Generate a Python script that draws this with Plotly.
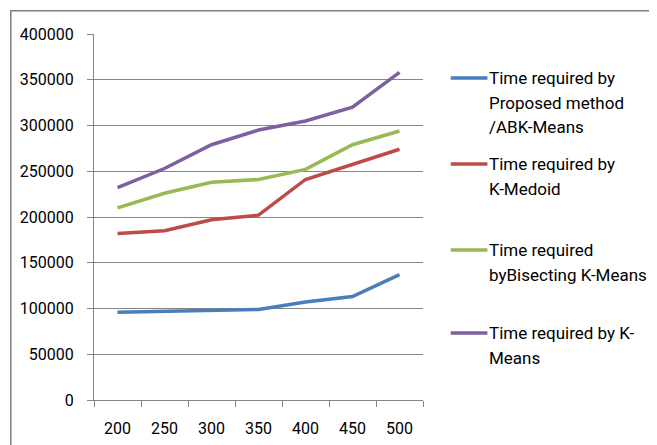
import plotly.graph_objects as go

categories = ["200", "250", "300", "350", "400", "450", "500"]
proposed = [96000, 97000, 98000, 99000, 107000, 113000, 137000]
kmedoid = [182000, 185000, 197000, 202000, 241000, 258000, 274000]
bisecting = [210000, 226000, 238000, 241000, 252000, 279000, 294000]
kmeans = [232000, 253000, 279000, 295000, 305000, 320000, 358000]

series_names = [
    ["Time required by", "Proposed method", "/ABK-Means"],
    ["Time required by", "K-Medoid"],
    ["Time required", "byBisecting K-Means"],
    ["Time required by K-", "Means"],
]
series_values = [proposed, kmedoid, bisecting, kmeans]
colors = ["#4A7EBB", "#BE4B48", "#98B954", "#7D60A0"]

FONT = "Roboto"
OFF = 8  # page body margin offset

fig = go.Figure()
for names, vals, col in zip(series_names, series_values, colors):
    fig.add_trace(go.Scatter(
        x=categories, y=vals, mode="lines", name=" ".join(names),
        line=dict(color=col, width=3.5), showlegend=False,
    ))

plot_left, plot_right, plot_top, plot_bottom = 91, 423, 34, 400
pw = plot_right - plot_left
ph = plot_bottom - plot_top
W, H = 657, 445

def px_x(px):
    return (px - plot_left) / pw

def px_y(py):
    return (plot_bottom - py) / ph

entry_y = [78, 164, 250, 333]
line_gap = 24.5
shapes = []
annotations = []
for names, col, y0 in zip(series_names, colors, entry_y):
    shapes.append(dict(type="line", xref="paper", yref="paper",
                       x0=px_x(451), x1=px_x(488), y0=px_y(y0), y1=px_y(y0),
                       line=dict(color=col, width=3.5)))
    for i, t in enumerate(names):
        annotations.append(dict(xref="paper", yref="paper", x=px_x(488),
                                y=px_y(y0 + i * line_gap), text=t, showarrow=False,
                                xanchor="left", yanchor="middle",
                                font=dict(family=FONT, size=17, color="#000000")))

# chart frame: an empty bordered annotation box
fl, fr, ft, fb = 9.5, 652.5, 11, 480
annotations.append(dict(xref="paper", yref="paper", x=px_x((fl + fr) / 2),
                        y=px_y((ft + fb) / 2), xanchor="center", yanchor="middle",
                        text=" ", showarrow=False, width=fr - fl - 2, height=fb - ft - 2,
                        borderpad=0, bordercolor="#7F7F7F", borderwidth=1.5,
                        bgcolor="rgba(0,0,0,0)"))

fig.update_layout(
    width=W, height=H,
    margin=dict(l=plot_left - OFF, r=W - (plot_right - OFF), t=plot_top - OFF,
                b=H - (plot_bottom - OFF)),
    paper_bgcolor="white", plot_bgcolor="white",
    font=dict(family=FONT, size=16, color="#000000"),
    shapes=shapes, annotations=annotations,
    xaxis=dict(type="category", range=[-0.5, len(categories) - 0.5],
               tickson="boundaries", ticks="outside", ticklen=6,
               tickcolor="#868686", showline=True, linecolor="#868686", linewidth=1,
               showgrid=False, tickfont=dict(family=FONT, size=16), ticklabelstandoff=14),
    yaxis=dict(range=[0, 400000], dtick=50000, showgrid=True, gridcolor="#868686",
               gridwidth=1, ticks="outside", ticklen=6, tickcolor="#868686",
               showline=True, linecolor="#868686", linewidth=1, zeroline=False,
               tickformat="d", tickfont=dict(family=FONT, size=16),
               ticklabelstandoff=10),
)

fig.write_html("out.html")
